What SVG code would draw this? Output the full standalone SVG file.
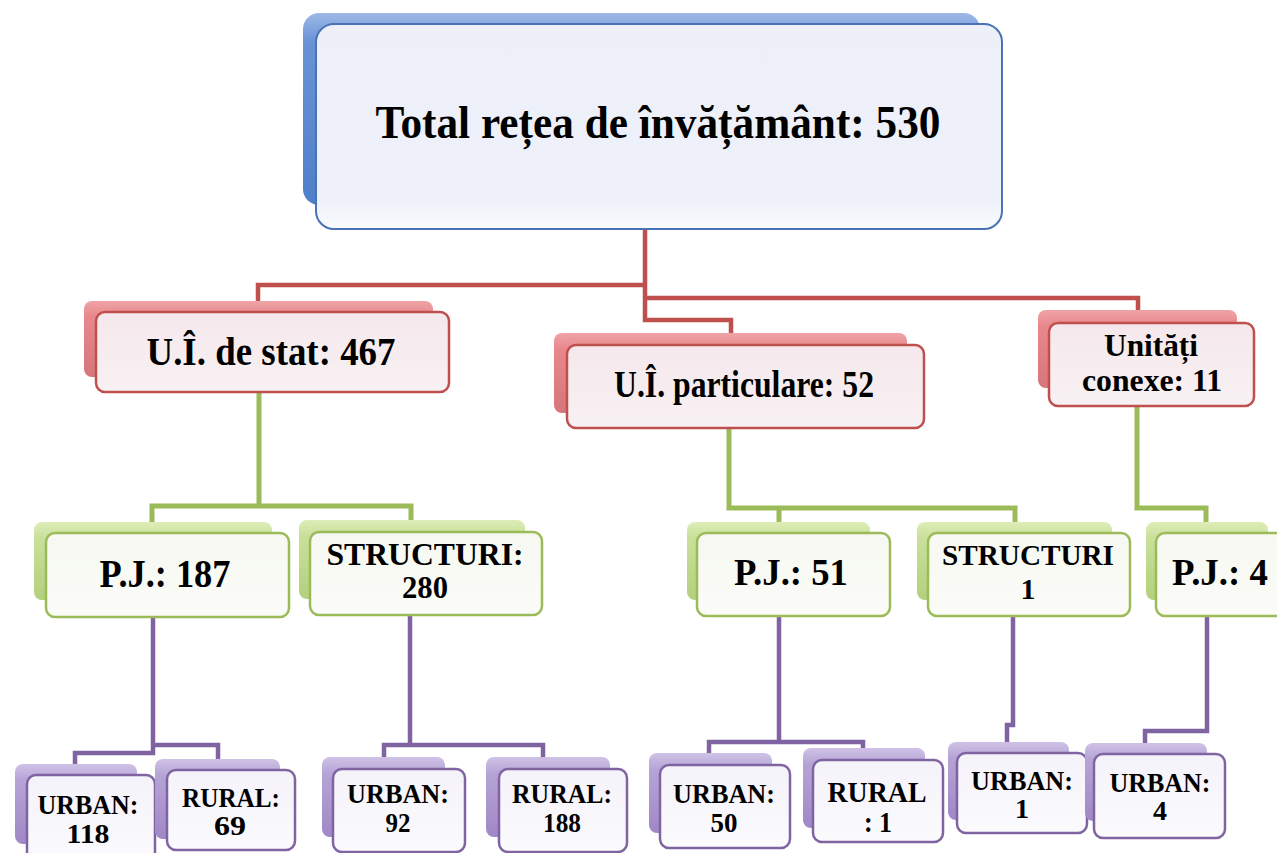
<svg xmlns="http://www.w3.org/2000/svg" width="1277" height="853" viewBox="0 0 1277 853">
<defs>
<linearGradient id="gBlue" x1="0" y1="0" x2="0" y2="1"><stop offset="0" stop-color="#9DB8E6"/><stop offset="0.15" stop-color="#6A93D6"/><stop offset="1" stop-color="#4F7FC9"/></linearGradient>
<linearGradient id="gRed" x1="0" y1="0" x2="0" y2="1"><stop offset="0" stop-color="#EFA3A6"/><stop offset="0.2" stop-color="#E8888C"/><stop offset="1" stop-color="#D7767A"/></linearGradient>
<linearGradient id="gGreen" x1="0" y1="0" x2="0" y2="1"><stop offset="0" stop-color="#DDEDB8"/><stop offset="0.2" stop-color="#C9E09A"/><stop offset="1" stop-color="#B3D07D"/></linearGradient>
<linearGradient id="gPurple" x1="0" y1="0" x2="0" y2="1"><stop offset="0" stop-color="#CFC2E6"/><stop offset="0.2" stop-color="#B6A4D6"/><stop offset="1" stop-color="#9F88C6"/></linearGradient>
<linearGradient id="fBlue" x1="0" y1="0" x2="0" y2="1"><stop offset="0" stop-color="#EDF0F9"/><stop offset="0.85" stop-color="#EEF1F9"/><stop offset="1" stop-color="#FAFBFE"/></linearGradient>
<linearGradient id="fRed" x1="0" y1="0" x2="0" y2="1"><stop offset="0" stop-color="#F5E8EC"/><stop offset="1" stop-color="#F8F1F3"/></linearGradient>
<linearGradient id="fGreen" x1="0" y1="0" x2="0" y2="1"><stop offset="0" stop-color="#F6F8F1"/><stop offset="1" stop-color="#FBFCF8"/></linearGradient>
<linearGradient id="fPurple" x1="0" y1="0" x2="0" y2="1"><stop offset="0" stop-color="#F5F3FA"/><stop offset="1" stop-color="#FBFAFD"/></linearGradient>
</defs>
<style>
text{font-family:"Liberation Serif","Times New Roman",serif;font-weight:bold;fill:#000;text-anchor:middle}
.bb{fill:url(#gBlue)}
.fb{fill:url(#fBlue);stroke:#4A73B5;stroke-width:2}
.br{fill:url(#gRed)}
.fr{fill:url(#fRed);stroke:#C0504D;stroke-width:2.5}
.bg{fill:url(#gGreen)}
.fg{fill:url(#fGreen);stroke:#9BBB59;stroke-width:2.5}
.bp{fill:url(#gPurple)}
.fp{fill:url(#fPurple);stroke:#8064A2;stroke-width:2.5}
.cr{fill:none;stroke:#C0504D;stroke-width:4.5}
.cg{fill:none;stroke:#9BBB59;stroke-width:5}
.cp{fill:none;stroke:#8064A2;stroke-width:4.5}
</style>
<rect width="1277" height="853" fill="#FFFFFF"/>
<g id="connectors">
<path class="cr" d="M645,229 V285 H258 V303 M645,285 V298 H1138 V320 M645,298 V320 H731 V335"/>
<path class="cg" d="M259,392 V506 H411 V522 M259,506 H152 V523"/>
<path class="cg" d="M729,428 V508 H1015 V522 M779,508 V523"/>
<path class="cg" d="M1137,406 V508 H1206 V522"/>
<path class="cp" d="M153,617 V745 H218 V760 M153,745 V753 H75 V766"/>
<path class="cp" d="M410,615 V745 H543 V758 M410,745 H384 V758"/>
<path class="cp" d="M779,616 V742 H863 V750 M779,742 H709 V754"/>
<path class="cp" d="M1013,616 V725 H1007 V743"/>
<path class="cp" d="M1207,616 V731 H1145 V744"/>
</g>
<g id="node-total">
<rect class="bb" x="303" y="13" width="677" height="192" rx="16"/>
<rect class="fb" x="316" y="24" width="686" height="205" rx="18"/>
<text x="658" y="138" font-size="46" textLength="565" lengthAdjust="spacingAndGlyphs">Total rețea de învățământ:  530</text>
</g>
<g id="node-stat">
<rect class="br" x="84" y="301" width="349" height="76" rx="8"/>
<rect class="fr" x="96" y="312" width="353" height="80" rx="9"/>
<text x="271" y="365" font-size="40" textLength="249" lengthAdjust="spacingAndGlyphs">U.Î. de stat: 467</text>
</g>
<g id="node-particulare">
<rect class="br" x="554" y="333" width="353" height="80" rx="8"/>
<rect class="fr" x="567" y="345" width="357" height="83" rx="9"/>
<text x="744" y="397" font-size="37" textLength="260" lengthAdjust="spacingAndGlyphs">U.Î. particulare: 52</text>
</g>
<g id="node-conexe">
<rect class="br" x="1038" y="310" width="199" height="78" rx="8"/>
<rect class="fr" x="1049" y="323" width="205" height="83" rx="9"/>
<text x="1151" y="356" font-size="32" textLength="94" lengthAdjust="spacingAndGlyphs">Unități</text>
<text x="1152" y="391" font-size="32" textLength="140" lengthAdjust="spacingAndGlyphs">conexe: 11</text>
</g>
<g id="node-pj187">
<rect class="bg" x="34" y="522" width="238" height="78" rx="8"/>
<rect class="fg" x="46" y="533" width="243" height="84" rx="9"/>
<text x="165" y="587" font-size="40" textLength="131" lengthAdjust="spacingAndGlyphs">P.J.: 187</text>
</g>
<g id="node-str280">
<rect class="bg" x="299" y="520" width="226" height="79" rx="8"/>
<rect class="fg" x="310" y="532" width="232" height="83" rx="9"/>
<text x="425" y="565" font-size="31" textLength="197" lengthAdjust="spacingAndGlyphs">STRUCTURI:</text>
<text x="425" y="598" font-size="31" textLength="46" lengthAdjust="spacingAndGlyphs">280</text>
</g>
<g id="node-pj51">
<rect class="bg" x="687" y="522" width="183" height="78" rx="8"/>
<rect class="fg" x="697" y="533" width="193" height="83" rx="9"/>
<text x="791" y="585" font-size="38" textLength="114" lengthAdjust="spacingAndGlyphs">P.J.: 51</text>
</g>
<g id="node-str1">
<rect class="bg" x="917" y="522" width="195" height="78" rx="8"/>
<rect class="fg" x="928" y="533" width="202" height="83" rx="9"/>
<text x="1028" y="565" font-size="30" textLength="172" lengthAdjust="spacingAndGlyphs">STRUCTURI</text>
<text x="1028" y="599" font-size="30">1</text>
</g>
<g id="node-pj4">
<rect class="bg" x="1146" y="522" width="122" height="78" rx="8"/>
<rect class="fg" x="1156" y="533" width="140" height="83" rx="9"/>
<text x="1220" y="585" font-size="38" textLength="96" lengthAdjust="spacingAndGlyphs">P.J.: 4</text>
</g>
<g id="node-urban118">
<rect class="bp" x="15" y="764" width="122" height="80" rx="8"/>
<rect class="fp" x="27" y="775" width="128" height="90" rx="9"/>
<text x="88" y="814" font-size="27" textLength="101" lengthAdjust="spacingAndGlyphs">URBAN:</text>
<text x="88" y="843" font-size="27" textLength="43" lengthAdjust="spacingAndGlyphs">118</text>
</g>
<g id="node-rural69">
<rect class="bp" x="155" y="759" width="125" height="80" rx="8"/>
<rect class="fp" x="167" y="770" width="128" height="80" rx="9"/>
<text x="231" y="807" font-size="28" textLength="98" lengthAdjust="spacingAndGlyphs">RURAL:</text>
<text x="230" y="835" font-size="28" textLength="32" lengthAdjust="spacingAndGlyphs">69</text>
</g>
<g id="node-urban92">
<rect class="bp" x="322" y="757" width="123" height="80" rx="8"/>
<rect class="fp" x="333" y="769" width="132" height="83" rx="9"/>
<text x="398" y="803" font-size="28" textLength="102" lengthAdjust="spacingAndGlyphs">URBAN:</text>
<text x="398" y="832" font-size="28" textLength="25" lengthAdjust="spacingAndGlyphs">92</text>
</g>
<g id="node-rural188">
<rect class="bp" x="486" y="757" width="124" height="80" rx="8"/>
<rect class="fp" x="499" y="769" width="128" height="83" rx="9"/>
<text x="562" y="803" font-size="28" textLength="100" lengthAdjust="spacingAndGlyphs">RURAL:</text>
<text x="562" y="832" font-size="28" textLength="38" lengthAdjust="spacingAndGlyphs">188</text>
</g>
<g id="node-urban50">
<rect class="bp" x="649" y="753" width="123" height="80" rx="8"/>
<rect class="fp" x="660" y="765" width="130" height="83" rx="9"/>
<text x="724" y="803" font-size="28" textLength="102" lengthAdjust="spacingAndGlyphs">URBAN:</text>
<text x="724" y="832" font-size="28" textLength="27" lengthAdjust="spacingAndGlyphs">50</text>
</g>
<g id="node-rural1">
<rect class="bp" x="803" y="748" width="122" height="80" rx="8"/>
<rect class="fp" x="813" y="760" width="130" height="82" rx="9"/>
<text x="877" y="802" font-size="30" textLength="99" lengthAdjust="spacingAndGlyphs">RURAL</text>
<text x="878" y="832" font-size="30" textLength="28" lengthAdjust="spacingAndGlyphs">: 1</text>
</g>
<g id="node-urban1">
<rect class="bp" x="948" y="742" width="121" height="78" rx="8"/>
<rect class="fp" x="957" y="753" width="130" height="80" rx="9"/>
<text x="1022" y="790" font-size="28" textLength="102" lengthAdjust="spacingAndGlyphs">URBAN:</text>
<text x="1022" y="818" font-size="28">1</text>
</g>
<g id="node-urban4">
<rect class="bp" x="1085" y="743" width="122" height="78" rx="8"/>
<rect class="fp" x="1094" y="754" width="131" height="84" rx="9"/>
<text x="1160" y="792" font-size="28" textLength="101" lengthAdjust="spacingAndGlyphs">URBAN:</text>
<text x="1160" y="820" font-size="28">4</text>
</g>
</svg>
